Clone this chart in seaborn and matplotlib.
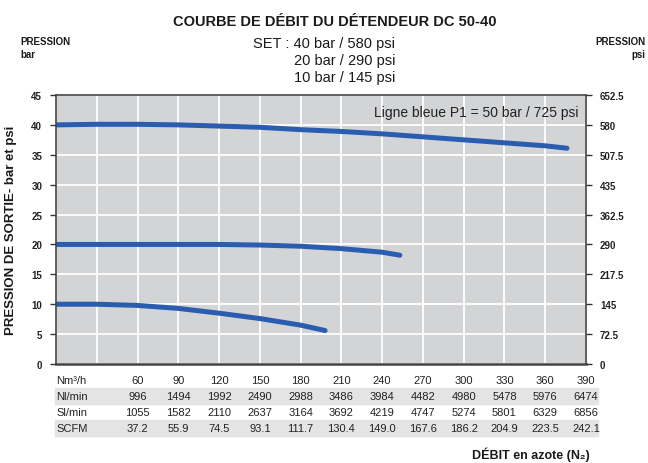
import numpy as np
import pandas as pd
import matplotlib
matplotlib.use("Agg")
import matplotlib.pyplot as plt
from matplotlib.patches import Rectangle
import seaborn as sns

# Courbes de débit (x = Nm3/h, y = pression de sortie en bar)
debit_40 = [0, 30, 60, 90, 120, 150, 180, 210, 240, 270, 300, 330, 360, 376]
pression_40 = [40, 40.1, 40.1, 40.0, 39.8, 39.6, 39.2, 38.9, 38.5, 38.0, 37.5, 37.0, 36.5, 36.1]
debit_20 = [0, 30, 60, 90, 120, 150, 180, 210, 240, 253]
pression_20 = [20, 20, 20, 20, 20, 19.9, 19.7, 19.3, 18.7, 18.2]
debit_10 = [0, 30, 60, 90, 120, 150, 180, 198]
pression_10 = [10, 10.0, 9.8, 9.3, 8.5, 7.6, 6.5, 5.6]

# Tableau des conversions
nm3h = [60, 90, 120, 150, 180, 210, 240, 270, 300, 330, 360, 390]
nl_min = [996, 1494, 1992, 2490, 2988, 3486, 3984, 4482, 4980, 5478, 5976, 6474]
sl_min = [1055, 1582, 2110, 2637, 3164, 3692, 4219, 4747, 5274, 5801, 6329, 6856]
scfm = ["37.2", "55.9", "74.5", "93.1", "111.7", "130.4", "149.0", "167.6", "186.2", "204.9", "223.5", "242.1"]
lignes = ["Nm³/h", "Nl/min", "Sl/min", "SCFM"]

df = pd.concat([
    pd.DataFrame({"debit": debit_40, "pression": pression_40, "set": "40"}),
    pd.DataFrame({"debit": debit_20, "pression": pression_20, "set": "20"}),
    pd.DataFrame({"debit": debit_10, "pression": pression_10, "set": "10"}),
])

sns.set_style("darkgrid", {"axes.facecolor": "#d3d4d6", "grid.color": "white"})
plt.rcParams["font.family"] = ["Liberation Sans", "DejaVu Sans"]
noir = "#1a1a1a"

fig = plt.figure(figsize=(6.48, 4.64), dpi=100)
ax = fig.add_axes([56 / 648, 99 / 464, 530 / 648, 269 / 464])

bleu = "#2a5db0"
sns.lineplot(data=df, x="debit", y="pression", hue="set", units="set", estimator=None,
             palette=[bleu] * 3, linewidth=3.6, legend=False, ax=ax,
             solid_capstyle="round")

ax.set_xlim(0, 390)
ax.set_ylim(0, 45)
ax.set_xticks(np.arange(0, 391, 30))
ax.set_xticklabels([])
ax.set_yticks(np.arange(0, 46, 5))
ax.grid(True, color="white", linewidth=1.3)
ax.set_xlabel("")
ax.set_ylabel("PRESSION DE SORTIE- bar et psi", fontweight="bold",
              fontsize=9.5, color=noir, labelpad=10)
ax.tick_params(axis="both", which="both", direction="out", length=4, width=1,
               color="#333333", labelsize=7, labelcolor="#222222", pad=6)
for lab in ax.get_yticklabels():
    lab.set_fontweight("bold")
for s in ax.spines.values():
    s.set_visible(True)
    s.set_color("#444444")
    s.set_linewidth(1.2)
ax.spines["bottom"].set_linewidth(1.8)

ax2 = ax.twinx()
ax2.set_ylim(0, 652.5)
ax2.set_yticks(np.arange(0, 653, 72.5))
ax2.set_yticklabels([f"{v:g}" for v in np.arange(0, 653, 72.5)], fontweight="bold")
ax2.grid(False)
ax2.tick_params(axis="y", direction="out", length=4, width=1, color="#333333",
                labelsize=7, labelcolor="#222222", pad=6)
for s in ax2.spines.values():
    s.set_visible(False)

ax.text(0.985, 0.935, "Ligne bleue P1 = 50 bar / 725 psi", transform=ax.transAxes,
        ha="right", va="center", fontsize=10, color="#222222")

# Tableau sous le graphique
tr = ax.get_xaxis_transform()
rows_y = [-0.0595, -0.119, -0.178, -0.238]
for i in (1, 3):
    ax.add_patch(Rectangle((-0.002, rows_y[i] - 0.028), 1.025, 0.056, transform=ax.transAxes,
                           color="#e4e4e4", clip_on=False, zorder=0))
valeurs = [nm3h, nl_min, sl_min, scfm]
for yy, nom, vals in zip(rows_y, lignes, valeurs):
    ax.text(0, yy, nom, transform=tr, ha="left", va="center",
            fontsize=8, color="#222222", clip_on=False)
    for xv, v in zip(nm3h, vals):
        ax.text(xv, yy, str(v), transform=tr, ha="center", va="center",
                fontsize=8, color="#222222", clip_on=False)

fig.text(335 / 648, 1 - 22 / 464, "COURBE DE DÉBIT DU DÉTENDEUR DC 50-40", ha="center",
         va="center", fontweight="bold", fontsize=10.5, color=noir)
for yy, t in zip([44, 61, 78], ["SET : 40 bar / 580 psi", "20 bar / 290 psi", "10 bar / 145 psi"]):
    fig.text(395 / 648, 1 - yy / 464, t, ha="right", va="center",
             fontsize=10.5, color=noir)
fig.text(20 / 648, 1 - 42 / 464, "PRESSION", ha="left", va="center",
         fontweight="bold", fontsize=7, color=noir)
fig.text(20 / 648, 1 - 55 / 464, "bar", ha="left", va="center",
         fontweight="bold", fontsize=7, color=noir)
fig.text(645 / 648, 1 - 42 / 464, "PRESSION", ha="right", va="center",
         fontweight="bold", fontsize=7, color=noir)
fig.text(645 / 648, 1 - 55 / 464, "psi", ha="right", va="center",
         fontweight="bold", fontsize=7, color=noir)
fig.text(590 / 648, 1 - 455 / 464, "DÉBIT en azote (N₂)", ha="right", va="center",
         fontweight="bold", fontsize=9, color=noir)

fig.savefig("out.png", dpi=100)
